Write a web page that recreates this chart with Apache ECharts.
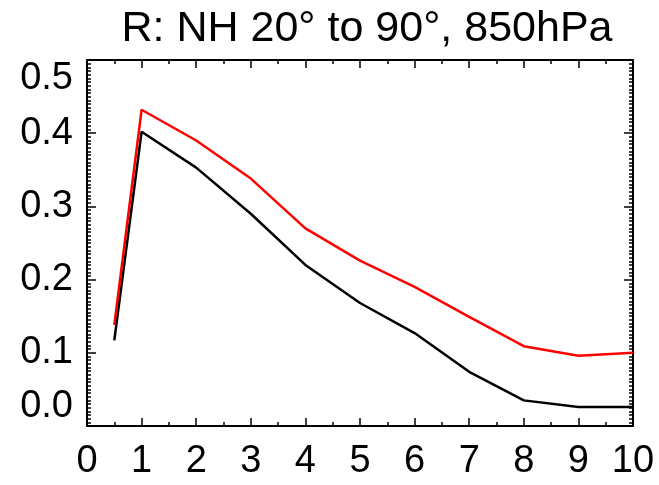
<!DOCTYPE html>
<html>
<head>
<meta charset="utf-8">
<style>
  html, body { margin: 0; padding: 0; background: #fff; }
  #chart { width: 659px; height: 485px; }
</style>
<script src="https://cdn.jsdelivr.net/npm/echarts@6/dist/echarts.min.js"></script>
</head>
<body>
<div id="chart"></div>
<script>
// Lead (months) and correlation R for NH 20°–90° at 850 hPa
const titleText = 'R: NH 20° to 90°, 850hPa';
const leads = [0.5, 1, 2, 3, 4, 5, 6, 7, 8, 9, 10];
const rBlack = [0.117, 0.402, 0.353, 0.290, 0.220, 0.168, 0.127, 0.074, 0.035, 0.026, 0.026];
const rRed   = [0.138, 0.432, 0.390, 0.338, 0.270, 0.226, 0.190, 0.149, 0.109, 0.096, 0.100];

const FONT = '"Liberation Sans", Arial, Helvetica, sans-serif';
const INK = '#000';

function pairs(xs, ys) { return xs.map((x, i) => [x, ys[i]]); }

const tickStyle = { color: INK, width: 1.5 };

function xAxisDef(pos, showLabels) {
  return {
    type: 'value', position: pos, min: 0, max: 10, interval: 1,
    axisLine: { show: true, onZero: false, lineStyle: { color: INK, width: 2 } },
    axisTick: { show: true, inside: true, length: 8, lineStyle: tickStyle },
    minorTick: { show: true, splitNumber: 2, length: 4, lineStyle: tickStyle },
    axisLabel: { show: showLabels, color: INK, fontFamily: FONT, fontSize: 38, margin: 17 },
    splitLine: { show: false }
  };
}

function yAxisDef(pos, showLabels) {
  return {
    type: 'value', position: pos, min: 0, max: 0.5, interval: 0.1,
    axisLine: { show: true, onZero: false, lineStyle: { color: INK, width: 2 } },
    axisTick: { show: true, inside: true, length: 9, lineStyle: tickStyle },
    minorTick: { show: true, splitNumber: 20, length: 4, lineStyle: tickStyle },
    axisLabel: {
      show: showLabels, color: INK, fontFamily: FONT, fontSize: 38, margin: 14,
      verticalAlignMaxLabel: 'top', verticalAlignMinLabel: 'bottom',
      formatter: v => v.toFixed(1)
    },
    splitLine: { show: false }
  };
}

const chart = echarts.init(document.getElementById('chart'), null, { renderer: 'canvas' });
chart.setOption({
  animation: false,
  backgroundColor: '#fff',
  title: {
    text: titleText, left: 362, textAlign: 'center', top: 3,
    textStyle: { color: INK, fontFamily: FONT, fontSize: 43, fontWeight: 'normal' }
  },
  grid: { left: 87, right: 26, top: 60, bottom: 59, containLabel: false },
  xAxis: [xAxisDef('bottom', true), xAxisDef('top', false)],
  yAxis: [yAxisDef('left', true), yAxisDef('right', false)],
  series: [
    {
      type: 'line', xAxisIndex: 0, yAxisIndex: 0, data: pairs(leads, rBlack),
      symbol: 'none', lineStyle: { color: '#000', width: 2.5 }, z: 2
    },
    {
      type: 'line', xAxisIndex: 0, yAxisIndex: 0, data: pairs(leads, rRed),
      symbol: 'none', lineStyle: { color: '#ff0000', width: 2.5 }, z: 3
    }
  ]
});
</script>
</body>
</html>
